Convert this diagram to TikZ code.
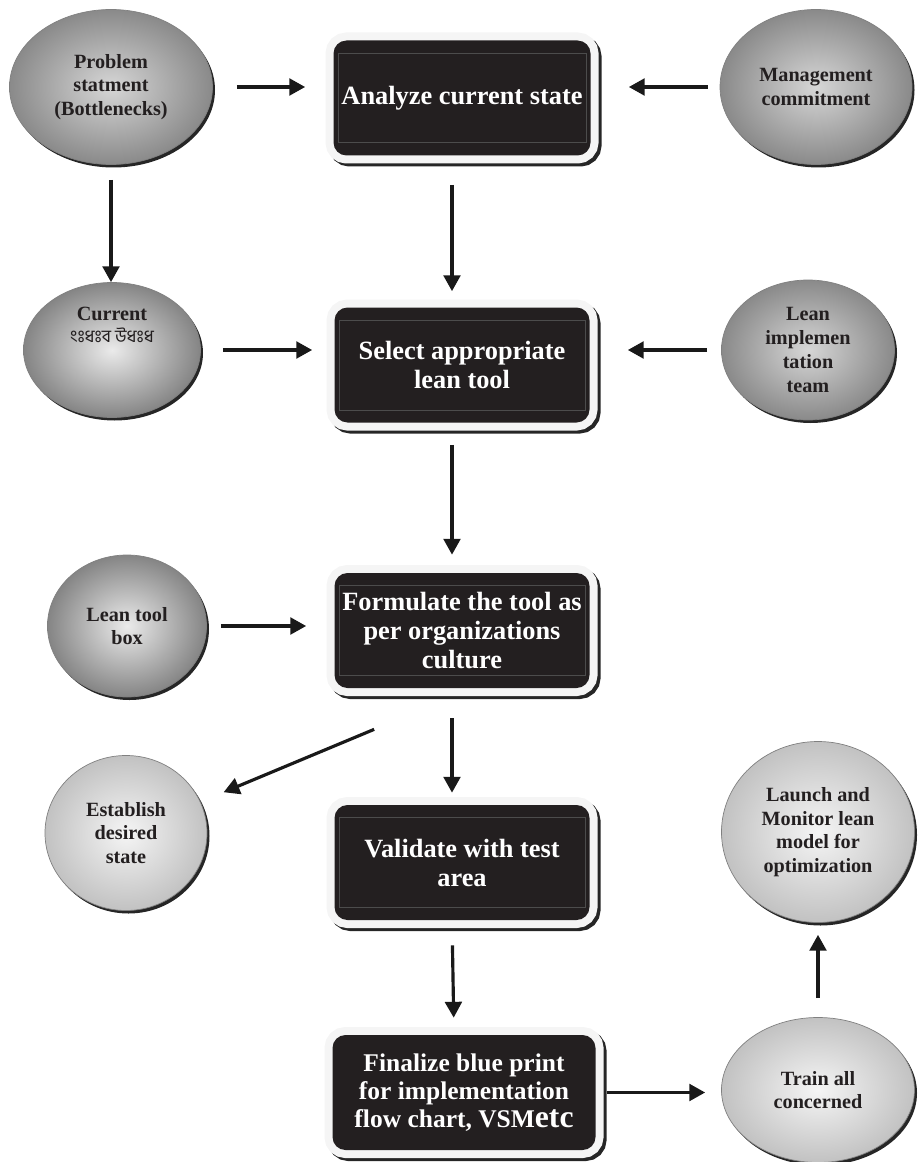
\documentclass[tikz,border=0pt]{standalone}
\usepackage{fontspec}
\setmainfont{Liberation Serif}
\newfontfamily\bnfont[Script=Bengali]{Hind Siliguri}
\usepackage{tikz}
\usetikzlibrary{positioning,arrows.meta,shapes.geometric,shadows,calc}

\definecolor{boxblack}{RGB}{35,31,32}
% leading signs set as plain glyphs (no dotted circle)
\newcommand{\bnsign}[1]{\XeTeXglyph\XeTeXcharglyph"#1\relax}

\begin{document}
\begin{tikzpicture}[
  stepbox/.style={rectangle, rounded corners=0.26cm, fill=boxblack, text=white, align=center,
    font=\fontsize{15}{16.5}\selectfont\bfseries, minimum width=5.1cm, minimum height=2.3cm, inner sep=2pt,
    preaction={draw=black!85, line width=0.32cm, transform canvas={xshift=0.06cm,yshift=-0.06cm}},
    preaction={draw=black!4, line width=0.32cm}},
  innerline/.style={draw=black!70, line width=0.4pt},
  bubble/.style={ellipse, draw=black!50, line width=0.4pt, inner sep=1pt, align=center, text=boxblack,
    font=\fontsize{11.5}{13.5}\selectfont\bfseries,
    drop shadow={shadow xshift=0.05cm, shadow yshift=-0.06cm, fill=black!85, opacity=1}},
  darkbubble/.style={bubble, inner color=black!16, outer color=black!46},
  midbubble/.style={bubble, inner color=black!8, outer color=black!48},
  palebubble/.style={bubble, inner color=black!4, outer color=black!24},
  arr/.style={-{Triangle[length=9pt,width=9.5pt]}, line width=1.8pt, black!90}
]
\useasboundingbox (0,0) rectangle (18.36,-23.24);

% sources
\node[darkbubble, minimum width=4.06cm, minimum height=3.1cm] (prob) at (2.22,-1.74) {Problem\\statment\\(Bottlenecks)};
\node[darkbubble, minimum width=3.84cm, minimum height=3.1cm] (mgmt) at (16.32,-1.74) {Management\\commitment};
\node[midbubble, minimum width=3.54cm, minimum height=2.7cm] (current) at (2.24,-7.0) {};
\node[font=\fontsize{11.5}{12.5}\selectfont\bfseries, text=boxblack, align=center] (curtext) at ([yshift=0.5cm]current)
  {Current\\{\bnfont\mdseries\fontsize{10}{11}\selectfont\bnsign{0982}\bnsign{0983}ধঃব উধঃধ}};
\node[darkbubble, minimum width=3.46cm, minimum height=2.8cm] (leanimpl) at (16.16,-7.0) {Lean\\implemen\\tation\\team};
\node[midbubble, minimum width=3.18cm, minimum height=2.84cm] (leantool) at (2.54,-12.52) {Lean tool\\box};
\node[palebubble, minimum width=3.24cm, minimum height=3.1cm] (establish) at (2.52,-16.66) {Establish\\desired\\state};
\node[palebubble, minimum width=3.86cm, minimum height=3.62cm] (launch) at (16.36,-16.64) {Launch and\\Monitor lean\\model for\\optimization};
\node[palebubble, minimum width=3.86cm, minimum height=2.9cm] (train) at (16.36,-21.8) {Train all\\concerned};

% main column
\node[stepbox, minimum width=5.14cm] (analyze) at (9.24,-1.96) {Analyze current state};
\node[stepbox] (select) at (9.24,-7.3) {Select appropriate\\lean tool};
\node[stepbox] (formulate) at (9.24,-12.61) {Formulate the tool as\\per organizations\\culture};
\node[stepbox] (validate) at (9.24,-17.25) {Validate with test\\area};
\node[stepbox, minimum width=5.26cm, font=\fontsize{14.5}{16}\selectfont\bfseries] (finalize) at (9.28,-21.85)
  {Finalize blue print\\for implementation\\flow chart, VSM{\fontsize{18}{18}\selectfont etc}};
\foreach \b in {analyze,select,formulate,validate}
  \draw[innerline] ([xshift=0.1cm,yshift=-0.26cm]\b.north west) rectangle ([xshift=-0.1cm,yshift=0.26cm]\b.south east);

% arrows
\draw[arr, shorten <=0.48cm, shorten >=0.56cm] (prob) -- (prob -| analyze.west);
\draw[arr, shorten <=0.24cm, shorten >=0.76cm] (mgmt) -- (mgmt -| analyze.east);
\draw[arr, shorten <=0.3cm] (prob) -- (prob |- current.north);
\draw[arr, shorten <=0.44cm, shorten >=0.44cm] (current) -- (current -| select.west);
\draw[arr, shorten <=0.28cm, shorten >=0.76cm] (leanimpl) -- (leanimpl -| select.east);
\draw[arr, shorten <=0.28cm, shorten >=0.56cm] (leantool) -- (leantool -| formulate.west);
\draw[arr, shorten <=0.58cm, shorten >=0.32cm] ([xshift=-0.2cm]analyze.south) -- ([xshift=-0.2cm]select.north);
\draw[arr, shorten <=0.44cm, shorten >=0.36cm] ([xshift=-0.2cm]select.south) -- ([xshift=-0.2cm]formulate.north);
\draw[arr, shorten <=0.6cm, shorten >=0.24cm] ([xshift=-0.2cm]formulate.south) -- ([xshift=-0.2cm]validate.north);
\draw[arr, shorten <=0.5cm, shorten >=0.34cm] ([xshift=-0.2cm]validate.south) -- ([xshift=-0.2cm]finalize.north);
\draw[arr, shorten >=0.5cm] ([xshift=0.8cm,yshift=-0.82cm]formulate.south west) -- (establish);
\draw[arr, shorten <=0.22cm, shorten >=0.32cm] (finalize) -- (finalize -| train.west);
\draw[arr, shorten <=0.38cm, shorten >=0.24cm] (train) -- (launch);
\end{tikzpicture}
\end{document}
